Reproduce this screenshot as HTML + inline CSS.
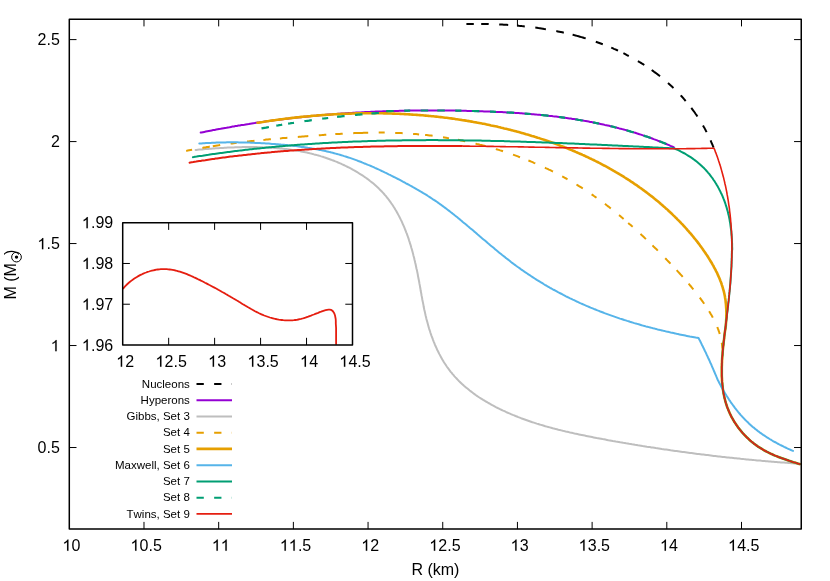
<!DOCTYPE html>
<html><head><meta charset="utf-8"><title>M-R</title>
<style>
html,body{margin:0;padding:0;background:#fff;}
body{width:830px;height:581px;overflow:hidden;}
svg{display:block;will-change:transform;}
text{font-family:"Liberation Sans",sans-serif;fill:#000;font-kerning:none;}
.t16{font-size:16px;}
.t12{font-size:11.5px;}
.c{fill:none;stroke-linejoin:round;stroke-linecap:butt;}
.r{stroke-linecap:round;}
</style></head><body>
<svg width="830" height="581" viewBox="0 0 830 581">
<rect width="830" height="581" fill="#fff"/>
<path d="M143.99,529.10 v-7.20 M143.99,19.20 v7.20 M218.68,529.10 v-7.20 M218.68,19.20 v7.20 M293.37,529.10 v-7.20 M293.37,19.20 v7.20 M368.06,529.10 v-7.20 M368.06,19.20 v7.20 M442.74,529.10 v-7.20 M442.74,19.20 v7.20 M517.43,529.10 v-7.20 M517.43,19.20 v7.20 M592.12,529.10 v-7.20 M592.12,19.20 v7.20 M666.81,529.10 v-7.20 M666.81,19.20 v7.20 M741.50,529.10 v-7.20 M741.50,19.20 v7.20 M69.30,447.52 h7.20 M801.25,447.52 h-7.20 M69.30,345.54 h7.20 M801.25,345.54 h-7.20 M69.30,243.56 h7.20 M801.25,243.56 h-7.20 M69.30,141.58 h7.20 M801.25,141.58 h-7.20 M69.30,39.60 h7.20 M801.25,39.60 h-7.20" stroke="#000" stroke-width="1" fill="none"/>
<path d="M763 0H583V1147Q518 1085 412.5 1023T223 930V1104Q374 1175 487 1276T647 1472H763Z" transform="translate(62.50,550.80) scale(0.007812,-0.007643)" fill="#000" stroke="#000" stroke-width="12"/><text class="t16" x="71.60" y="550.80">0</text>
<path d="M763 0H583V1147Q518 1085 412.5 1023T223 930V1104Q374 1175 487 1276T647 1472H763Z" transform="translate(130.52,550.80) scale(0.007812,-0.007643)" fill="#000" stroke="#000" stroke-width="12"/><text class="t16" x="139.62" y="550.80">0.5</text>
<path d="M763 0H583V1147Q518 1085 412.5 1023T223 930V1104Q374 1175 487 1276T647 1472H763Z" transform="translate(211.88,550.80) scale(0.007812,-0.007643)" fill="#000" stroke="#000" stroke-width="12"/><path d="M763 0H583V1147Q518 1085 412.5 1023T223 930V1104Q374 1175 487 1276T647 1472H763Z" transform="translate(220.78,550.80) scale(0.007812,-0.007643)" fill="#000" stroke="#000" stroke-width="12"/>
<path d="M763 0H583V1147Q518 1085 412.5 1023T223 930V1104Q374 1175 487 1276T647 1472H763Z" transform="translate(279.90,550.80) scale(0.007812,-0.007643)" fill="#000" stroke="#000" stroke-width="12"/><path d="M763 0H583V1147Q518 1085 412.5 1023T223 930V1104Q374 1175 487 1276T647 1472H763Z" transform="translate(288.79,550.80) scale(0.007812,-0.007643)" fill="#000" stroke="#000" stroke-width="12"/><text class="t16" x="297.89" y="550.80">.5</text>
<path d="M763 0H583V1147Q518 1085 412.5 1023T223 930V1104Q374 1175 487 1276T647 1472H763Z" transform="translate(361.26,550.80) scale(0.007812,-0.007643)" fill="#000" stroke="#000" stroke-width="12"/><text class="t16" x="370.36" y="550.80">2</text>
<path d="M763 0H583V1147Q518 1085 412.5 1023T223 930V1104Q374 1175 487 1276T647 1472H763Z" transform="translate(429.27,550.80) scale(0.007812,-0.007643)" fill="#000" stroke="#000" stroke-width="12"/><text class="t16" x="438.37" y="550.80">2.5</text>
<path d="M763 0H583V1147Q518 1085 412.5 1023T223 930V1104Q374 1175 487 1276T647 1472H763Z" transform="translate(510.63,550.80) scale(0.007812,-0.007643)" fill="#000" stroke="#000" stroke-width="12"/><text class="t16" x="519.73" y="550.80">3</text>
<path d="M763 0H583V1147Q518 1085 412.5 1023T223 930V1104Q374 1175 487 1276T647 1472H763Z" transform="translate(578.65,550.80) scale(0.007812,-0.007643)" fill="#000" stroke="#000" stroke-width="12"/><text class="t16" x="587.75" y="550.80">3.5</text>
<path d="M763 0H583V1147Q518 1085 412.5 1023T223 930V1104Q374 1175 487 1276T647 1472H763Z" transform="translate(660.01,550.80) scale(0.007812,-0.007643)" fill="#000" stroke="#000" stroke-width="12"/><text class="t16" x="669.11" y="550.80">4</text>
<path d="M763 0H583V1147Q518 1085 412.5 1023T223 930V1104Q374 1175 487 1276T647 1472H763Z" transform="translate(728.03,550.80) scale(0.007812,-0.007643)" fill="#000" stroke="#000" stroke-width="12"/><text class="t16" x="737.13" y="550.80">4.5</text>
<text class="t16" x="37.56" y="453.12">0.5</text>
<path d="M763 0H583V1147Q518 1085 412.5 1023T223 930V1104Q374 1175 487 1276T647 1472H763Z" transform="translate(50.70,351.14) scale(0.007812,-0.007643)" fill="#000" stroke="#000" stroke-width="12"/>
<path d="M763 0H583V1147Q518 1085 412.5 1023T223 930V1104Q374 1175 487 1276T647 1472H763Z" transform="translate(37.36,249.16) scale(0.007812,-0.007643)" fill="#000" stroke="#000" stroke-width="12"/><text class="t16" x="46.46" y="249.16">.5</text>
<text class="t16" x="50.90" y="147.18">2</text>
<text class="t16" x="37.56" y="45.20">2.5</text>
<path class="c" d="M466.4,24.0 L467.9,24.0 L469.3,24.0 L470.8,23.9 L472.3,23.9 L473.8,23.9 M481.2,23.9 L482.7,23.9 L484.2,24.0 L485.7,24.0 L487.2,24.0 L488.7,24.1 M499.2,24.4 L500.7,24.5 L502.2,24.6 L503.7,24.7 L505.2,24.7 L506.7,24.8 L508.2,24.9 M517.2,25.6 L518.8,25.8 L520.3,25.9 L521.8,26.1 L523.3,26.2 L524.8,26.4 M535.3,27.6 L536.8,27.8 L538.4,28.1 L539.9,28.3 L541.4,28.5 L542.9,28.7 L544.4,29.0 L545.9,29.2 M556.3,31.1 L557.8,31.4 L559.3,31.7 L560.8,32.0 L562.3,32.3 L563.8,32.7 M572.6,34.8 L574.1,35.1 L575.5,35.5 L577.0,35.9 L578.5,36.3 L579.9,36.7 L581.4,37.1 L582.8,37.5 L584.3,38.0 L585.7,38.4 M595.8,41.7 L597.2,42.2 L598.6,42.7 L600.0,43.2 L601.4,43.7 L602.8,44.2 M611.2,47.6 L612.6,48.2 L613.9,48.8 L615.3,49.4 L616.7,50.0 L618.0,50.6 M623.4,53.2 L624.8,53.9 L626.1,54.6 L627.4,55.3 L628.8,56.0 M637.9,61.1 L639.2,61.9 L640.5,62.6 L641.7,63.4 L643.0,64.2 L644.3,65.0 M651.7,70.0 L652.9,70.9 L654.1,71.8 L655.3,72.6 L656.5,73.5 L657.7,74.4 L658.8,75.3 L660.0,76.3 M668.0,82.9 L669.1,83.9 L670.2,84.9 L671.3,85.9 L672.4,87.0 L673.5,88.0 M680.7,95.4 L681.8,96.5 L682.8,97.6 L683.7,98.7 L684.7,99.8 L685.7,101.0 M691.3,107.9 L692.2,109.1 L693.1,110.3 L694.0,111.5 L694.9,112.8 L695.7,114.0 L696.6,115.2 L697.4,116.5 M703.0,125.5 L703.7,126.8 L704.5,128.1 L705.2,129.4 L705.9,130.8 L706.6,132.1 M710.6,140.4 L711.2,141.9 L711.8,143.3 L712.4,144.7 L713.0,146.2 L713.6,147.6" stroke="#000000" stroke-width="2.0"/>
<path class="c r" d="M200.7,132.6 L201.4,132.5 L202.9,132.2 L204.3,131.9 L205.8,131.6 L207.3,131.3 L208.8,131.0 L210.3,130.7 L211.7,130.4 L213.2,130.1 L214.7,129.9 L216.2,129.6 L217.7,129.3 L219.1,129.0 L220.6,128.8 L222.1,128.5 L223.6,128.2 L225.1,127.9 L226.5,127.7 L228.0,127.4 L229.5,127.2 L231.0,126.9 L232.5,126.6 L234.0,126.4 L235.4,126.1 L236.9,125.9 L238.4,125.6 L239.9,125.4 L241.4,125.1 L242.9,124.9 L244.4,124.7 L245.8,124.4 L247.3,124.2 L248.8,124.0 L250.3,123.7 L251.8,123.5 L253.3,123.3 L254.7,123.1 L256.2,122.8 L257.7,122.6 L259.2,122.4 L260.7,122.2 L262.2,122.0 L263.7,121.8 L265.2,121.5 L266.6,121.3 L268.1,121.1 L269.6,120.9 L271.1,120.7 L272.6,120.5 L274.1,120.3 L275.6,120.1 L277.1,119.9 L278.5,119.8 L280.0,119.6 L281.5,119.4 L283.0,119.2 L284.5,119.0 L286.0,118.8 L287.5,118.7 L289.0,118.5 L290.5,118.3 L292.0,118.1 L293.4,118.0 L294.9,117.8 L296.4,117.6 L297.9,117.5 L299.4,117.3 L300.9,117.2 L302.4,117.0 L303.9,116.8 L305.4,116.7 L306.9,116.5 L308.4,116.4 L309.9,116.2 L311.4,116.1 L312.8,115.9 L314.3,115.8 L315.8,115.7 L317.3,115.5 L318.8,115.4 L320.3,115.3 L321.8,115.1 L323.3,115.0 L324.8,114.9 L326.3,114.7 L327.8,114.6 L329.3,114.5 L330.8,114.4 L332.3,114.3 L333.8,114.1 L335.3,114.0 L336.8,113.9 L338.2,113.8 L339.7,113.7 L341.2,113.6 L342.7,113.5 L344.2,113.4 L345.7,113.3 L347.2,113.2 L348.7,113.1 L350.2,113.0 L351.7,112.9 L353.2,112.8 L354.7,112.7 L356.2,112.6 L357.7,112.5 L359.2,112.4 L360.7,112.4 L362.2,112.3 L363.7,112.2 L365.2,112.1 L366.7,112.0 L368.2,112.0 L369.7,111.9 L371.2,111.8 L372.7,111.8 L374.2,111.7 L375.7,111.6 L377.2,111.6 L378.7,111.5 L380.2,111.4 L381.7,111.4 L383.2,111.3 L384.7,111.3 L386.2,111.2 L387.7,111.2 L389.2,111.1 L390.7,111.1 L392.2,111.0 L393.7,111.0 L395.2,110.9 L396.7,110.9 L398.2,110.9 L399.7,110.8 L401.2,110.8 L402.7,110.8 L404.2,110.7 L405.7,110.7 L407.2,110.7 L408.7,110.6 L410.2,110.6 L411.7,110.6 L413.2,110.6 L414.7,110.6 L416.2,110.5 L417.7,110.5 L419.2,110.5 L420.7,110.5 L422.2,110.5 L423.7,110.5 L425.2,110.5 L426.7,110.5 L428.2,110.5 L429.7,110.4 L431.3,110.4 L432.8,110.4 L434.3,110.4 L435.8,110.4 L437.3,110.5 L438.8,110.5 L440.3,110.5 L441.8,110.5 L443.3,110.5 L444.8,110.5 L446.3,110.5 L447.8,110.5 L449.3,110.5 L450.8,110.6 L452.3,110.6 L453.8,110.6 L455.3,110.6 L456.8,110.7 L458.3,110.7 L459.8,110.7 L461.4,110.7 L462.9,110.8 L464.4,110.8 L465.9,110.8 L467.4,110.9 L468.9,110.9 L470.4,111.0 L471.9,111.0 L473.4,111.0 L474.9,111.1 L476.4,111.1 L477.9,111.2 L479.4,111.2 L480.9,111.3 L482.4,111.3 L484.0,111.4 L485.5,111.4 L487.0,111.5 L488.5,111.5 L490.0,111.6 L491.5,111.7 L493.0,111.7 L494.5,111.8 L496.0,111.9 L497.5,111.9 L499.0,112.0 L500.5,112.1 L502.0,112.1 L503.5,112.2 L505.1,112.3 L506.6,112.4 L508.1,112.5 L509.6,112.6 L511.1,112.6 L512.6,112.7 L514.1,112.8 L515.6,112.9 L517.1,113.0 L518.6,113.1 L520.1,113.2 L521.6,113.3 L523.1,113.4 L524.6,113.6 L526.1,113.7 L527.6,113.8 L529.1,113.9 L530.6,114.0 L532.1,114.2 L533.6,114.3 L535.1,114.4 L536.6,114.6 L538.1,114.7 L539.6,114.8 L541.1,115.0 L542.6,115.1 L544.1,115.3 L545.6,115.4 L547.1,115.6 L548.6,115.8 L550.1,115.9 L551.6,116.1 L553.1,116.3 L554.6,116.4 L556.1,116.6 L557.5,116.8 L559.0,117.0 L560.5,117.2 L562.0,117.4 L563.5,117.6 L565.0,117.8 L566.5,118.0 L568.0,118.2 L569.4,118.4 L570.9,118.6 L572.4,118.9 L573.9,119.1 L575.4,119.3 L576.9,119.5 L578.3,119.8 L579.8,120.0 L581.3,120.3 L582.8,120.5 L584.2,120.8 L585.7,121.0 L587.2,121.3 L588.7,121.6 L590.1,121.9 L591.6,122.1 L593.1,122.4 L594.5,122.7 L596.0,123.0 L597.5,123.3 L598.9,123.6 L600.4,123.9 L601.9,124.2 L603.3,124.5 L604.8,124.9 L606.3,125.2 L607.7,125.5 L609.2,125.8 L610.6,126.2 L612.1,126.5 L613.5,126.9 L615.0,127.3 L616.4,127.6 L617.9,128.0 L619.3,128.4 L620.8,128.7 L622.2,129.1 L623.7,129.5 L625.1,129.9 L626.5,130.3 L628.0,130.7 L629.4,131.1 L630.9,131.6 L632.3,132.0 L633.7,132.4 L635.2,132.8 L636.6,133.3 L638.0,133.7 L639.5,134.2 L640.9,134.6 L642.3,135.1 L643.7,135.6 L645.1,136.1 L646.6,136.5 L648.0,137.0 L649.4,137.5 L650.8,138.0 L652.2,138.5 L653.6,139.1 L655.1,139.6 L656.5,140.1 L657.9,140.7 L659.3,141.2 L660.7,141.7 L662.1,142.3 L663.5,142.9 L664.9,143.4 L666.3,144.0 L667.7,144.6 L669.1,145.2 L670.4,145.8 L671.8,146.4 L673.2,147.0 L673.9,147.3" stroke="#9400D3" stroke-width="2.0"/>
<path class="c r" d="M195.6,149.9 L196.3,149.9 L197.7,149.7 L199.2,149.6 L200.7,149.5 L202.2,149.4 L203.7,149.2 L205.2,149.1 L206.6,149.0 L208.1,148.9 L209.6,148.8 L211.1,148.7 L212.6,148.6 L214.1,148.5 L215.6,148.3 L217.1,148.2 L218.6,148.2 L220.1,148.1 L221.6,148.0 L223.1,147.9 L224.6,147.8 L226.1,147.7 L227.6,147.6 L229.1,147.6 L230.7,147.5 L232.2,147.4 L233.7,147.4 L235.2,147.3 L236.7,147.3 L238.2,147.2 L239.7,147.2 L241.2,147.2 L242.7,147.1 L244.3,147.1 L245.8,147.1 L247.3,147.1 L248.8,147.1 L250.3,147.1 L251.8,147.1 L253.3,147.1 L254.9,147.1 L256.4,147.1 L257.9,147.2 L259.4,147.2 L260.9,147.2 L262.4,147.3 L263.9,147.4 L265.4,147.4 L266.9,147.5 L268.4,147.6 L269.9,147.7 L271.4,147.7 L272.9,147.8 L274.4,148.0 L275.9,148.1 L277.4,148.2 L278.9,148.3 L280.4,148.5 L281.9,148.6 L283.4,148.8 L284.9,149.0 L286.4,149.1 L287.8,149.3 L289.3,149.5 L290.8,149.7 L292.3,149.9 L293.8,150.2 L295.2,150.4 L296.7,150.6 L298.2,150.9 L299.6,151.1 L301.1,151.4 L302.5,151.7 L304.0,152.0 L305.4,152.3 L306.9,152.6 L308.3,152.9 L309.8,153.3 L311.2,153.6 L312.7,154.0 L314.1,154.4 L315.5,154.7 L317.0,155.1 L318.4,155.5 L319.8,155.9 L321.2,156.4 L322.7,156.8 L324.1,157.3 L325.5,157.7 L326.9,158.2 L328.3,158.7 L329.7,159.2 L331.1,159.7 L332.5,160.3 L333.9,160.8 L335.4,161.4 L336.8,161.9 L338.1,162.5 L339.5,163.1 L340.9,163.7 L342.3,164.4 L343.7,165.0 L345.1,165.7 L346.5,166.3 L347.8,167.0 L349.2,167.7 L350.6,168.4 L351.9,169.1 L353.2,169.9 L354.6,170.6 L355.9,171.4 L357.2,172.2 L358.5,173.0 L359.8,173.8 L361.1,174.6 L362.4,175.4 L363.7,176.3 L364.9,177.2 L366.2,178.0 L367.4,178.9 L368.6,179.8 L369.8,180.8 L371.0,181.7 L372.2,182.6 L373.4,183.6 L374.5,184.6 L375.6,185.6 L376.7,186.6 L377.8,187.6 L378.9,188.6 L380.0,189.7 L381.0,190.7 L382.1,191.8 L383.1,192.9 L384.1,194.0 L385.0,195.1 L386.0,196.2 L386.9,197.4 L387.8,198.5 L388.7,199.7 L389.6,200.9 L390.5,202.1 L391.3,203.3 L392.2,204.5 L393.0,205.7 L393.8,207.0 L394.6,208.2 L395.3,209.5 L396.1,210.7 L396.8,212.0 L397.5,213.3 L398.2,214.6 L398.9,215.9 L399.6,217.2 L400.3,218.6 L400.9,219.9 L401.6,221.2 L402.2,222.6 L402.8,224.0 L403.4,225.3 L404.0,226.7 L404.6,228.1 L405.1,229.5 L405.7,230.9 L406.2,232.3 L406.8,233.7 L407.3,235.1 L407.8,236.5 L408.3,237.9 L408.8,239.4 L409.2,240.8 L409.7,242.2 L410.1,243.7 L410.6,245.1 L411.0,246.6 L411.4,248.0 L411.9,249.5 L412.3,251.0 L412.7,252.4 L413.1,253.9 L413.4,255.4 L413.8,256.8 L414.2,258.3 L414.5,259.8 L414.9,261.3 L415.2,262.7 L415.6,264.2 L415.9,265.7 L416.2,267.2 L416.5,268.7 L416.9,270.1 L417.2,271.6 L417.5,273.1 L417.8,274.6 L418.0,276.1 L418.3,277.5 L418.6,279.0 L418.9,280.5 L419.2,282.0 L419.4,283.4 L419.7,284.9 L420.0,286.4 L420.2,287.8 L420.5,289.3 L420.7,290.8 L421.0,292.2 L421.3,293.7 L421.5,295.2 L421.8,296.6 L422.1,298.1 L422.3,299.5 L422.6,301.0 L422.9,302.4 L423.2,303.9 L423.5,305.4 L423.7,306.8 L424.0,308.3 L424.3,309.7 L424.7,311.2 L425.0,312.6 L425.3,314.1 L425.6,315.5 L426.0,317.0 L426.3,318.4 L426.7,319.9 L427.1,321.3 L427.5,322.8 L427.9,324.2 L428.3,325.7 L428.7,327.2 L429.1,328.6 L429.6,330.1 L430.1,331.5 L430.5,333.0 L431.0,334.4 L431.5,335.8 L432.1,337.3 L432.6,338.7 L433.1,340.1 L433.7,341.6 L434.3,343.0 L434.8,344.4 L435.4,345.8 L436.1,347.2 L436.7,348.6 L437.3,350.0 L438.0,351.3 L438.7,352.7 L439.4,354.1 L440.1,355.4 L440.8,356.7 L441.5,358.1 L442.3,359.4 L443.1,360.7 L443.8,362.0 L444.6,363.2 L445.5,364.5 L446.3,365.8 L447.1,367.0 L448.0,368.2 L448.9,369.4 L449.8,370.6 L450.7,371.8 L451.7,372.9 L452.6,374.1 L453.6,375.2 L454.5,376.3 L455.5,377.4 L456.6,378.5 L457.6,379.6 L458.6,380.7 L459.7,381.7 L460.7,382.7 L461.8,383.8 L462.9,384.8 L464.0,385.8 L465.1,386.7 L466.3,387.7 L467.4,388.6 L468.6,389.6 L469.7,390.5 L470.9,391.4 L472.1,392.3 L473.3,393.2 L474.5,394.1 L475.7,395.0 L476.9,395.8 L478.2,396.7 L479.4,397.5 L480.7,398.3 L482.0,399.1 L483.2,399.9 L484.5,400.7 L485.8,401.5 L487.1,402.2 L488.4,403.0 L489.7,403.7 L491.0,404.5 L492.3,405.2 L493.7,405.9 L495.0,406.6 L496.3,407.3 L497.7,408.0 L499.0,408.6 L500.4,409.3 L501.8,410.0 L503.1,410.6 L504.5,411.2 L505.9,411.9 L507.2,412.5 L508.6,413.1 L510.0,413.7 L511.4,414.3 L512.8,414.9 L514.2,415.4 L515.5,416.0 L516.9,416.5 L518.3,417.1 L519.7,417.6 L521.1,418.2 L522.5,418.7 L524.0,419.2 L525.4,419.7 L526.8,420.2 L528.2,420.7 L529.6,421.2 L531.0,421.7 L532.4,422.2 L533.9,422.6 L535.3,423.1 L536.7,423.6 L538.2,424.0 L539.6,424.5 L541.0,424.9 L542.5,425.3 L543.9,425.7 L545.3,426.2 L546.8,426.6 L548.2,427.0 L549.7,427.4 L551.1,427.8 L552.6,428.2 L554.0,428.6 L555.5,428.9 L556.9,429.3 L558.4,429.7 L559.8,430.0 L561.3,430.4 L562.7,430.8 L564.2,431.1 L565.7,431.5 L567.1,431.8 L568.6,432.1 L570.1,432.5 L571.5,432.8 L573.0,433.1 L574.5,433.5 L575.9,433.8 L577.4,434.1 L578.9,434.4 L580.3,434.7 L581.8,435.0 L583.3,435.3 L584.8,435.6 L586.2,435.9 L587.7,436.2 L589.2,436.5 L590.7,436.8 L592.1,437.1 L593.6,437.4 L595.1,437.7 L596.6,438.0 L598.0,438.2 L599.5,438.5 L601.0,438.8 L602.5,439.1 L604.0,439.3 L605.4,439.6 L606.9,439.9 L608.4,440.2 L609.9,440.4 L611.4,440.7 L612.8,441.0 L614.3,441.2 L615.8,441.5 L617.3,441.7 L618.8,442.0 L620.2,442.3 L621.7,442.5 L623.2,442.8 L624.7,443.0 L626.2,443.3 L627.6,443.5 L629.1,443.8 L630.6,444.0 L632.1,444.3 L633.6,444.5 L635.0,444.8 L636.5,445.0 L638.0,445.3 L639.5,445.5 L641.0,445.7 L642.5,446.0 L643.9,446.2 L645.4,446.4 L646.9,446.7 L648.4,446.9 L649.9,447.1 L651.3,447.4 L652.8,447.6 L654.3,447.8 L655.8,448.1 L657.3,448.3 L658.8,448.5 L660.3,448.7 L661.7,449.0 L663.2,449.2 L664.7,449.4 L666.2,449.6 L667.7,449.8 L669.2,450.0 L670.6,450.3 L672.1,450.5 L673.6,450.7 L675.1,450.9 L676.6,451.1 L678.1,451.3 L679.6,451.5 L681.0,451.7 L682.5,451.9 L684.0,452.1 L685.5,452.3 L687.0,452.5 L688.5,452.7 L690.0,452.9 L691.5,453.1 L692.9,453.3 L694.4,453.5 L695.9,453.7 L697.4,453.9 L698.9,454.0 L700.4,454.2 L701.9,454.4 L703.4,454.6 L704.8,454.8 L706.3,455.0 L707.8,455.1 L709.3,455.3 L710.8,455.5 L712.3,455.7 L713.8,455.9 L715.3,456.0 L716.8,456.2 L718.3,456.4 L719.7,456.5 L721.2,456.7 L722.7,456.9 L724.2,457.0 L725.7,457.2 L727.2,457.4 L728.7,457.5 L730.2,457.7 L731.7,457.8 L733.2,458.0 L734.7,458.2 L736.1,458.3 L737.6,458.5 L739.1,458.6 L740.6,458.8 L742.1,458.9 L743.6,459.1 L745.1,459.2 L746.6,459.4 L748.1,459.5 L749.6,459.7 L751.1,459.8 L752.6,459.9 L754.1,460.1 L755.6,460.2 L757.1,460.4 L758.6,460.5 L760.1,460.6 L761.5,460.8 L763.0,460.9 L764.5,461.0 L766.0,461.2 L767.5,461.3 L769.0,461.4 L770.5,461.5 L772.0,461.7 L773.5,461.8 L775.0,461.9 L776.5,462.0 L778.0,462.2 L779.5,462.3 L781.0,462.4 L782.5,462.5 L784.0,462.6 L785.5,462.7 L787.0,462.8 L788.5,463.0 L790.0,463.1 L791.5,463.2 L793.0,463.3 L794.5,463.4 L796.0,463.5 L797.5,463.6 L799.0,463.7 L799.7,463.7" stroke="#BEBEBE" stroke-width="2.0"/>
<path class="c" d="M186.2,150.9 L187.7,150.6 L189.1,150.3 L190.6,150.0 L192.1,149.7 M202.4,147.9 L203.9,147.6 L205.4,147.4 L206.9,147.1 L208.4,146.9 L209.8,146.6 M212.8,146.2 L214.3,145.9 L215.8,145.7 L217.3,145.5 L218.7,145.3 L220.2,145.0 M230.6,143.6 L232.1,143.4 L233.6,143.2 L235.1,143.0 L236.6,142.9 M247.0,141.6 L248.5,141.5 L250.0,141.3 L251.5,141.1 L253.0,141.0 L254.5,140.8 M263.4,139.9 L264.9,139.8 L266.4,139.6 L267.9,139.5 L269.4,139.3 L270.9,139.2 M279.9,138.4 L281.4,138.3 L282.9,138.1 L284.4,138.0 L285.9,137.9 L287.4,137.8 M297.8,136.9 L299.3,136.8 L300.8,136.7 L302.3,136.5 L303.8,136.4 L305.3,136.3 L306.8,136.2 L308.3,136.1 M318.8,135.3 L320.3,135.2 L321.8,135.1 L323.3,134.9 L324.8,134.8 L326.3,134.7 M335.3,134.1 L336.8,134.0 L338.3,134.0 L339.7,133.9 L341.2,133.8 L342.7,133.7 M353.2,133.2 L354.7,133.1 L356.2,133.1 L357.7,133.0 L359.2,133.0 L360.7,132.9 L362.2,132.9 L363.7,132.8 L365.2,132.8 L366.7,132.7 L368.2,132.7 M378.7,132.6 L380.2,132.6 L381.7,132.6 L383.2,132.6 L384.7,132.6 M395.2,132.9 L396.7,132.9 L398.2,133.0 L399.7,133.0 L401.2,133.1 L402.7,133.2 M413.1,133.9 L414.6,134.0 L416.1,134.1 L417.6,134.2 L419.1,134.4 M425.1,135.0 L426.6,135.1 L428.1,135.3 L429.6,135.5 L431.1,135.6 L432.6,135.8 M443.0,137.3 L444.5,137.5 L446.0,137.7 L447.5,138.0 L449.0,138.2 M457.9,139.8 L459.3,140.1 L460.8,140.4 L462.3,140.7 L463.8,141.0 L465.2,141.3 M475.5,143.6 L477.0,144.0 L478.4,144.3 L479.9,144.7 L481.4,145.0 L482.8,145.4 L484.3,145.8 L485.7,146.2 M495.8,149.1 L497.3,149.5 L498.7,149.9 L500.2,150.4 L501.6,150.8 L503.0,151.3 M513.0,154.6 L514.4,155.1 L515.8,155.6 L517.2,156.1 L518.6,156.7 L520.0,157.2 M528.4,160.5 L529.8,161.0 L531.2,161.6 L532.6,162.2 L533.9,162.8 L535.3,163.4 M544.9,167.6 L546.2,168.3 L547.6,168.9 L548.9,169.6 L550.3,170.2 L551.6,170.9 L553.0,171.5 M562.2,176.4 L563.6,177.1 L564.9,177.8 L566.2,178.5 L567.5,179.3 M576.5,184.5 L577.8,185.3 L579.0,186.1 L580.3,186.9 L581.6,187.7 L582.8,188.5 M591.6,194.3 L592.8,195.1 L594.0,196.0 L595.2,196.8 L596.5,197.7 M604.9,203.9 L606.1,204.8 L607.3,205.7 L608.5,206.6 L609.6,207.5 L610.8,208.5 M619.0,215.1 L620.2,216.0 L621.3,217.0 L622.5,218.0 L623.6,218.9 M628.2,222.9 L629.3,223.9 L630.4,224.8 L631.5,225.8 L632.7,226.8 M640.5,233.9 L641.6,235.0 L642.7,236.0 L643.8,237.0 L644.9,238.1 L645.9,239.1 M652.5,245.4 L653.5,246.5 L654.6,247.5 L655.7,248.6 L656.8,249.6 L657.8,250.7 M665.2,258.2 L666.3,259.3 L667.3,260.4 L668.4,261.5 L669.4,262.5 L670.5,263.6 M676.7,270.2 L677.7,271.3 L678.7,272.4 L679.7,273.5 L680.7,274.6 L681.7,275.7 L682.7,276.9 M688.6,283.7 L689.6,284.8 L690.6,286.0 L691.5,287.1 L692.5,288.3 L693.4,289.4 M699.8,297.7 L700.7,298.9 L701.6,300.1 L702.5,301.3 L703.3,302.5 L704.2,303.8 M709.1,311.2 L709.9,312.5 L710.6,313.8 L711.4,315.1 L712.1,316.3 L712.8,317.6 M717.3,327.0 L717.8,328.4 L718.3,329.7 L718.8,331.1 L719.3,332.5 L719.7,333.9 M721.7,342.7 L722.0,344.1 L722.1,345.7 L722.3,347.2 L722.4,348.7" stroke="#E69F00" stroke-width="2.0"/>
<path class="c r" d="M257.5,122.8 L258.2,122.7 L259.7,122.4 L261.2,122.2 L262.6,122.0 L264.1,121.7 L265.6,121.5 L267.1,121.3 L268.6,121.1 L270.1,120.8 L271.6,120.6 L273.1,120.4 L274.6,120.2 L276.0,120.0 L277.5,119.8 L279.0,119.6 L280.5,119.4 L282.0,119.2 L283.5,119.0 L285.0,118.8 L286.5,118.6 L288.0,118.5 L289.5,118.3 L291.0,118.1 L292.5,117.9 L294.0,117.8 L295.4,117.6 L296.9,117.4 L298.4,117.3 L299.9,117.1 L301.4,116.9 L302.9,116.8 L304.4,116.6 L305.9,116.5 L307.4,116.4 L308.9,116.2 L310.4,116.1 L311.9,115.9 L313.4,115.8 L314.9,115.7 L316.4,115.6 L317.9,115.4 L319.4,115.3 L320.9,115.2 L322.4,115.1 L323.9,115.0 L325.4,114.9 L326.9,114.8 L328.4,114.7 L329.9,114.6 L331.4,114.5 L332.9,114.4 L334.4,114.3 L335.9,114.2 L337.4,114.1 L338.9,114.1 L340.4,114.0 L341.9,113.9 L343.4,113.9 L344.9,113.8 L346.4,113.7 L347.9,113.7 L349.4,113.6 L350.9,113.6 L352.4,113.5 L353.9,113.5 L355.4,113.4 L356.9,113.4 L358.4,113.4 L359.9,113.3 L361.4,113.3 L362.9,113.3 L364.4,113.3 L365.9,113.3 L367.4,113.3 L368.9,113.2 L370.4,113.2 L371.9,113.2 L373.4,113.2 L374.9,113.2 L376.4,113.3 L377.9,113.3 L379.4,113.3 L380.9,113.3 L382.4,113.3 L383.9,113.4 L385.4,113.4 L386.8,113.4 L388.3,113.5 L389.8,113.5 L391.3,113.5 L392.8,113.6 L394.3,113.6 L395.8,113.7 L397.3,113.8 L398.8,113.8 L400.3,113.9 L401.8,114.0 L403.3,114.0 L404.8,114.1 L406.3,114.2 L407.8,114.3 L409.3,114.4 L410.8,114.5 L412.3,114.6 L413.8,114.7 L415.3,114.8 L416.8,114.9 L418.3,115.0 L419.8,115.1 L421.3,115.2 L422.7,115.3 L424.2,115.5 L425.7,115.6 L427.2,115.7 L428.7,115.9 L430.2,116.0 L431.7,116.2 L433.2,116.3 L434.7,116.5 L436.2,116.6 L437.7,116.8 L439.2,117.0 L440.6,117.1 L442.1,117.3 L443.6,117.5 L445.1,117.7 L446.6,117.8 L448.1,118.0 L449.6,118.2 L451.1,118.4 L452.5,118.6 L454.0,118.8 L455.5,119.1 L457.0,119.3 L458.5,119.5 L460.0,119.7 L461.4,119.9 L462.9,120.2 L464.4,120.4 L465.9,120.6 L467.4,120.9 L468.9,121.1 L470.3,121.4 L471.8,121.6 L473.3,121.9 L474.8,122.2 L476.3,122.4 L477.7,122.7 L479.2,123.0 L480.7,123.3 L482.2,123.6 L483.6,123.8 L485.1,124.1 L486.6,124.4 L488.1,124.7 L489.5,125.0 L491.0,125.4 L492.5,125.7 L493.9,126.0 L495.4,126.3 L496.9,126.6 L498.4,127.0 L499.8,127.3 L501.3,127.7 L502.8,128.0 L504.2,128.4 L505.7,128.7 L507.2,129.1 L508.6,129.4 L510.1,129.8 L511.5,130.2 L513.0,130.6 L514.5,130.9 L515.9,131.3 L517.4,131.7 L518.8,132.1 L520.3,132.5 L521.7,132.9 L523.2,133.3 L524.6,133.7 L526.1,134.2 L527.5,134.6 L529.0,135.0 L530.4,135.4 L531.9,135.9 L533.3,136.3 L534.8,136.8 L536.2,137.2 L537.6,137.7 L539.1,138.1 L540.5,138.6 L541.9,139.1 L543.4,139.6 L544.8,140.0 L546.2,140.5 L547.7,141.0 L549.1,141.5 L550.5,142.0 L551.9,142.5 L553.3,143.0 L554.8,143.5 L556.2,144.1 L557.6,144.6 L559.0,145.1 L560.4,145.7 L561.8,146.2 L563.2,146.7 L564.6,147.3 L566.0,147.8 L567.4,148.4 L568.8,149.0 L570.2,149.5 L571.6,150.1 L573.0,150.7 L574.4,151.3 L575.7,151.9 L577.1,152.5 L578.5,153.1 L579.9,153.7 L581.3,154.3 L582.6,154.9 L584.0,155.5 L585.4,156.2 L586.7,156.8 L588.1,157.4 L589.4,158.1 L590.8,158.7 L592.1,159.4 L593.5,160.0 L594.8,160.7 L596.2,161.4 L597.5,162.0 L598.8,162.7 L600.2,163.4 L601.5,164.1 L602.8,164.8 L604.1,165.5 L605.5,166.2 L606.8,166.9 L608.1,167.6 L609.4,168.4 L610.7,169.1 L612.0,169.8 L613.3,170.6 L614.6,171.3 L615.9,172.1 L617.2,172.8 L618.5,173.6 L619.8,174.4 L621.0,175.1 L622.3,175.9 L623.6,176.7 L624.8,177.5 L626.1,178.3 L627.4,179.1 L628.6,179.9 L629.9,180.7 L631.1,181.6 L632.4,182.4 L633.6,183.2 L634.8,184.1 L636.1,184.9 L637.3,185.7 L638.5,186.6 L639.7,187.5 L641.0,188.3 L642.2,189.2 L643.4,190.1 L644.6,191.0 L645.8,191.9 L647.0,192.8 L648.2,193.7 L649.3,194.6 L650.5,195.5 L651.7,196.4 L652.9,197.3 L654.0,198.3 L655.2,199.2 L656.4,200.2 L657.5,201.1 L658.7,202.1 L659.8,203.0 L660.9,204.0 L662.1,205.0 L663.2,206.0 L664.3,206.9 L665.4,207.9 L666.6,208.9 L667.7,209.9 L668.8,211.0 L669.9,212.0 L671.0,213.0 L672.1,214.0 L673.1,215.1 L674.2,216.1 L675.3,217.2 L676.4,218.2 L677.4,219.3 L678.5,220.4 L679.5,221.4 L680.6,222.5 L681.6,223.6 L682.7,224.7 L683.7,225.8 L684.7,226.9 L685.7,228.0 L686.7,229.1 L687.7,230.3 L688.7,231.4 L689.7,232.6 L690.7,233.7 L691.7,234.9 L692.6,236.0 L693.6,237.2 L694.5,238.4 L695.5,239.5 L696.4,240.7 L697.4,241.9 L698.3,243.1 L699.2,244.3 L700.1,245.6 L701.0,246.8 L701.9,248.0 L702.8,249.2 L703.6,250.5 L704.5,251.7 L705.4,253.0 L706.2,254.3 L707.1,255.5 L707.9,256.8 L708.7,258.1 L709.5,259.4 L710.3,260.7 L711.1,262.0 L711.9,263.3 L712.6,264.6 L713.4,265.9 L714.1,267.3 L714.8,268.6 L715.5,269.9 L716.2,271.3 L716.9,272.6 L717.5,274.0 L718.1,275.4 L718.7,276.7 L719.3,278.1 L719.9,279.5 L720.4,280.9 L721.0,282.3 L721.5,283.7 L721.9,285.1 L722.4,286.5 L722.8,287.9 L723.2,289.3 L723.6,290.7 L724.0,292.2 L724.3,293.6 L724.6,295.0 L724.9,296.5 L725.1,297.9 L725.4,299.4 L725.6,300.8 L725.7,302.3 L725.9,303.7 L726.0,305.2 L726.1,306.6 L726.2,308.1 L726.3,309.6 L726.3,311.0 L726.4,312.5 L726.4,314.0 L726.3,315.4 L726.3,316.9 L726.3,318.4 L726.2,319.9 L726.1,321.4 L726.0,322.8 L725.9,324.3 L725.8,325.8 L725.6,327.3 L725.5,328.8 L725.1,330.4 L724.9,331.9 L724.7,333.4 L724.5,334.9 L724.3,336.5 L724.2,338.0 L724.0,339.5 L723.8,341.0 L723.6,342.6 L723.5,344.1 L723.3,345.6 L723.1,347.1 L723.0,348.7 L722.8,350.2 L722.7,351.7 L722.6,353.2 L722.5,354.8 L722.3,356.3 L722.2,357.8 L722.1,359.3 L722.0,360.9 L722.0,362.4 L721.9,363.9 L721.9,365.4 L721.8,366.9 L721.8,368.4 L721.8,369.9 L721.8,371.4 L721.8,372.9 L721.8,374.4 L721.8,375.9 L721.9,377.4 L722.0,378.9 L722.0,380.4 L722.1,381.9 L722.3,383.4 L722.4,384.8 L722.6,386.3 L722.7,387.8 L722.9,389.2 L723.1,390.7 L723.4,392.1 L723.6,393.6 L723.9,395.0 L724.2,396.4 L724.5,397.9 L724.9,399.3 L725.2,400.7 L725.6,402.1 L726.0,403.5 L726.5,404.9 L726.9,406.3 L727.4,407.7 L728.0,409.0 L728.5,410.4 L729.1,411.7 L729.7,413.1 L730.3,414.4 L731.0,415.8 L731.6,417.1 L732.4,418.4 L733.1,419.7 L733.9,421.0 L734.6,422.3 L735.5,423.5 L736.3,424.8 L737.2,426.0 L738.0,427.3 L739.0,428.5 L739.9,429.7 L740.9,430.9 L741.8,432.0 L742.8,433.2 L743.9,434.3 L744.9,435.4 L746.0,436.5 L747.0,437.6 L748.2,438.6 L749.3,439.7 L750.4,440.7 L751.6,441.7 L752.8,442.6 L753.9,443.6 L755.2,444.5 L756.4,445.4 L757.6,446.3 L758.9,447.1 L760.2,447.9 L761.5,448.7 L762.8,449.5 L764.1,450.3 L765.4,451.0 L766.7,451.7 L768.1,452.4 L769.5,453.1 L770.8,453.7 L772.2,454.3 L773.6,455.0 L775.0,455.6 L776.4,456.1 L777.8,456.7 L779.2,457.3 L780.6,457.8 L782.0,458.3 L783.5,458.8 L784.9,459.3 L786.3,459.8 L787.7,460.3 L789.2,460.8 L790.6,461.2 L792.0,461.7 L793.4,462.2 L794.9,462.6 L796.3,463.0 L797.7,463.5 L799.1,463.9 L799.7,464.1" stroke="#E69F00" stroke-width="2.6"/>
<path class="c r" d="M199.3,143.6 L200.0,143.6 L201.5,143.5 L203.0,143.3 L204.5,143.2 L206.0,143.1 L207.5,143.0 L209.0,143.0 L210.5,142.9 L212.0,142.8 L213.5,142.7 L215.0,142.7 L216.5,142.6 L218.0,142.5 L219.5,142.5 L221.0,142.5 L222.5,142.4 L224.0,142.4 L225.5,142.4 L227.0,142.3 L228.5,142.3 L230.0,142.3 L231.5,142.3 L233.0,142.3 L234.5,142.3 L236.0,142.3 L237.5,142.3 L239.0,142.4 L240.5,142.4 L242.0,142.4 L243.5,142.4 L245.0,142.5 L246.5,142.5 L248.0,142.6 L249.5,142.6 L251.0,142.7 L252.4,142.7 L253.9,142.8 L255.4,142.9 L256.9,142.9 L258.4,143.0 L259.9,143.1 L261.4,143.2 L262.9,143.3 L264.4,143.3 L265.9,143.4 L267.4,143.5 L268.9,143.6 L270.4,143.7 L271.9,143.9 L273.4,144.0 L274.9,144.1 L276.4,144.2 L277.9,144.3 L279.4,144.4 L280.9,144.6 L282.4,144.7 L283.9,144.8 L285.4,145.0 L286.9,145.1 L288.4,145.3 L289.9,145.4 L291.4,145.6 L292.9,145.8 L294.4,145.9 L295.9,146.1 L297.4,146.3 L298.8,146.5 L300.3,146.7 L301.8,146.9 L303.3,147.1 L304.8,147.3 L306.3,147.5 L307.8,147.8 L309.2,148.0 L310.7,148.2 L312.2,148.5 L313.7,148.7 L315.1,149.0 L316.6,149.3 L318.1,149.6 L319.6,149.9 L321.0,150.1 L322.5,150.4 L324.0,150.8 L325.4,151.1 L326.9,151.4 L328.3,151.7 L329.8,152.1 L331.2,152.4 L332.7,152.8 L334.1,153.2 L335.6,153.6 L337.0,154.0 L338.5,154.4 L339.9,154.8 L341.3,155.2 L342.8,155.6 L344.2,156.1 L345.6,156.5 L347.0,157.0 L348.5,157.5 L349.9,157.9 L351.3,158.4 L352.7,158.9 L354.1,159.4 L355.5,159.9 L356.9,160.4 L358.3,161.0 L359.8,161.5 L361.2,162.0 L362.5,162.6 L363.9,163.2 L365.3,163.7 L366.7,164.3 L368.1,164.9 L369.5,165.4 L370.9,166.0 L372.3,166.6 L373.6,167.2 L375.0,167.9 L376.4,168.5 L377.8,169.1 L379.1,169.7 L380.5,170.3 L381.8,171.0 L383.2,171.6 L384.6,172.3 L385.9,172.9 L387.3,173.6 L388.6,174.3 L390.0,174.9 L391.3,175.6 L392.7,176.3 L394.0,177.0 L395.4,177.6 L396.7,178.3 L398.0,179.0 L399.4,179.7 L400.7,180.4 L402.0,181.1 L403.3,181.8 L404.7,182.5 L406.0,183.3 L407.3,184.0 L408.6,184.7 L409.9,185.4 L411.3,186.1 L412.6,186.9 L413.9,187.6 L415.2,188.3 L416.5,189.1 L417.8,189.8 L419.1,190.6 L420.4,191.4 L421.7,192.1 L422.9,192.9 L424.2,193.7 L425.5,194.4 L426.8,195.2 L428.0,196.0 L429.3,196.8 L430.5,197.6 L431.8,198.5 L433.0,199.3 L434.3,200.1 L435.5,200.9 L436.8,201.8 L438.0,202.6 L439.2,203.5 L440.4,204.4 L441.6,205.2 L442.8,206.1 L444.0,207.0 L445.2,207.9 L446.4,208.8 L447.6,209.7 L448.8,210.6 L450.0,211.5 L451.2,212.5 L452.4,213.4 L453.5,214.3 L454.7,215.3 L455.9,216.2 L457.0,217.1 L458.2,218.1 L459.4,219.0 L460.5,220.0 L461.7,220.9 L462.8,221.9 L464.0,222.9 L465.1,223.8 L466.3,224.8 L467.4,225.8 L468.6,226.7 L469.7,227.7 L470.9,228.7 L472.0,229.6 L473.2,230.6 L474.3,231.6 L475.5,232.5 L476.6,233.5 L477.7,234.5 L478.9,235.5 L480.0,236.4 L481.2,237.4 L482.3,238.4 L483.5,239.4 L484.6,240.3 L485.8,241.3 L486.9,242.3 L488.0,243.3 L489.2,244.2 L490.3,245.2 L491.5,246.2 L492.6,247.1 L493.8,248.1 L494.9,249.1 L496.1,250.0 L497.3,251.0 L498.4,251.9 L499.6,252.9 L500.7,253.8 L501.9,254.8 L503.1,255.7 L504.3,256.6 L505.4,257.6 L506.6,258.5 L507.8,259.4 L509.0,260.3 L510.2,261.3 L511.3,262.2 L512.5,263.1 L513.7,264.0 L514.9,264.9 L516.1,265.8 L517.4,266.7 L518.6,267.5 L519.8,268.4 L521.0,269.3 L522.2,270.1 L523.5,271.0 L524.7,271.9 L525.9,272.7 L527.2,273.5 L528.4,274.4 L529.7,275.2 L530.9,276.0 L532.2,276.9 L533.4,277.7 L534.7,278.5 L536.0,279.3 L537.2,280.1 L538.5,280.9 L539.8,281.7 L541.1,282.5 L542.4,283.2 L543.6,284.0 L544.9,284.8 L546.2,285.5 L547.5,286.3 L548.8,287.0 L550.1,287.8 L551.4,288.5 L552.8,289.3 L554.1,290.0 L555.4,290.7 L556.7,291.4 L558.0,292.1 L559.4,292.8 L560.7,293.5 L562.0,294.2 L563.3,294.9 L564.7,295.6 L566.0,296.3 L567.4,297.0 L568.7,297.6 L570.1,298.3 L571.4,298.9 L572.8,299.6 L574.1,300.2 L575.5,300.9 L576.8,301.5 L578.2,302.1 L579.6,302.8 L580.9,303.4 L582.3,304.0 L583.7,304.6 L585.0,305.2 L586.4,305.8 L587.8,306.4 L589.2,307.0 L590.6,307.6 L591.9,308.1 L593.3,308.7 L594.7,309.3 L596.1,309.8 L597.5,310.4 L598.9,310.9 L600.3,311.5 L601.7,312.0 L603.1,312.5 L604.5,313.1 L605.9,313.6 L607.3,314.1 L608.7,314.6 L610.1,315.1 L611.5,315.6 L613.0,316.1 L614.4,316.6 L615.8,317.1 L617.2,317.6 L618.6,318.1 L620.0,318.6 L621.5,319.0 L622.9,319.5 L624.3,320.0 L625.7,320.4 L627.2,320.9 L628.6,321.3 L630.0,321.8 L631.5,322.2 L632.9,322.6 L634.3,323.1 L635.8,323.5 L637.2,323.9 L638.7,324.3 L640.1,324.7 L641.6,325.2 L643.0,325.6 L644.4,326.0 L645.9,326.4 L647.3,326.7 L648.8,327.1 L650.2,327.5 L651.7,327.9 L653.1,328.3 L654.6,328.6 L656.1,329.0 L657.5,329.4 L659.0,329.7 L660.4,330.1 L661.9,330.4 L663.3,330.8 L664.8,331.1 L666.3,331.5 L667.7,331.8 L669.2,332.1 L670.7,332.5 L672.1,332.8 L673.6,333.1 L675.1,333.4 L676.5,333.8 L678.0,334.1 L679.5,334.4 L680.9,334.7 L682.4,335.0 L683.9,335.3 L685.3,335.6 L686.8,335.9 L688.3,336.2 L689.8,336.5 L691.2,336.7 L692.7,337.0 L694.2,337.3 L695.7,337.6 L697.1,337.8 L698.6,338.1 L699.3,339.5 L700.0,340.8 L700.7,342.2 L701.4,343.6 L702.0,345.0 L702.7,346.3 L703.4,347.7 L704.1,349.1 L704.7,350.5 L705.4,351.9 L706.1,353.3 L706.7,354.7 L707.4,356.1 L708.0,357.5 L708.6,358.8 L709.3,360.2 L709.9,361.6 L710.5,363.0 L711.2,364.4 L711.8,365.9 L712.4,367.3 L713.0,368.7 L713.6,370.1 L714.2,371.5 L714.8,372.9 L715.4,374.3 L716.0,375.7 L716.6,377.2 L717.2,378.6 L717.8,380.0 L718.5,381.3 L719.2,382.7 L719.9,384.0 L720.6,385.3 L721.3,386.7 L722.0,388.0 L722.7,389.3 L723.5,390.6 L724.3,391.9 L725.0,393.2 L725.8,394.5 L726.6,395.8 L727.4,397.0 L728.2,398.3 L729.0,399.6 L729.9,400.8 L730.7,402.1 L731.6,403.3 L732.5,404.5 L733.3,405.7 L734.2,406.9 L735.1,408.1 L736.1,409.3 L737.0,410.5 L737.9,411.7 L738.9,412.8 L739.9,414.0 L740.8,415.1 L741.8,416.2 L742.8,417.3 L743.9,418.4 L744.9,419.5 L746.0,420.6 L747.0,421.6 L748.1,422.6 L749.2,423.7 L750.3,424.7 L751.4,425.7 L752.5,426.7 L753.7,427.6 L754.8,428.6 L756.0,429.5 L757.2,430.4 L758.4,431.4 L759.6,432.3 L760.8,433.1 L762.0,434.0 L763.2,434.9 L764.5,435.7 L765.7,436.5 L767.0,437.4 L768.3,438.2 L769.6,439.0 L770.8,439.7 L772.1,440.5 L773.4,441.3 L774.8,442.0 L776.1,442.7 L777.4,443.5 L778.7,444.2 L780.1,444.9 L781.4,445.5 L782.8,446.2 L784.1,446.9 L785.5,447.5 L786.8,448.2 L788.2,448.8 L789.6,449.4 L790.9,450.0 L792.3,450.6 L793.0,450.9" stroke="#56B4E9" stroke-width="2.0"/>
<path class="c r" d="M192.9,157.2 L193.6,157.1 L195.1,156.8 L196.6,156.6 L198.0,156.3 L199.5,156.1 L201.0,155.9 L202.5,155.7 L204.0,155.4 L205.5,155.2 L207.0,155.0 L208.5,154.8 L209.9,154.5 L211.4,154.3 L212.9,154.1 L214.4,153.9 L215.9,153.7 L217.4,153.5 L218.9,153.3 L220.4,153.1 L221.8,152.9 L223.3,152.7 L224.8,152.5 L226.3,152.3 L227.8,152.1 L229.3,151.9 L230.8,151.7 L232.3,151.5 L233.8,151.3 L235.2,151.1 L236.7,150.9 L238.2,150.7 L239.7,150.6 L241.2,150.4 L242.7,150.2 L244.2,150.0 L245.7,149.8 L247.2,149.7 L248.7,149.5 L250.1,149.3 L251.6,149.2 L253.1,149.0 L254.6,148.8 L256.1,148.7 L257.6,148.5 L259.1,148.4 L260.6,148.2 L262.1,148.1 L263.6,147.9 L265.1,147.7 L266.6,147.6 L268.0,147.5 L269.5,147.3 L271.0,147.2 L272.5,147.0 L274.0,146.9 L275.5,146.7 L277.0,146.6 L278.5,146.5 L280.0,146.3 L281.5,146.2 L283.0,146.1 L284.5,145.9 L286.0,145.8 L287.5,145.7 L289.0,145.6 L290.4,145.4 L291.9,145.3 L293.4,145.2 L294.9,145.1 L296.4,145.0 L297.9,144.8 L299.4,144.7 L300.9,144.6 L302.4,144.5 L303.9,144.4 L305.4,144.3 L306.9,144.2 L308.4,144.1 L309.9,144.0 L311.4,143.9 L312.9,143.8 L314.4,143.7 L315.9,143.6 L317.4,143.5 L318.9,143.4 L320.4,143.3 L321.8,143.2 L323.3,143.1 L324.8,143.0 L326.3,143.0 L327.8,142.9 L329.3,142.8 L330.8,142.7 L332.3,142.6 L333.8,142.5 L335.3,142.5 L336.8,142.4 L338.3,142.3 L339.8,142.2 L341.3,142.2 L342.8,142.1 L344.3,142.0 L345.8,142.0 L347.3,141.9 L348.8,141.8 L350.3,141.8 L351.8,141.7 L353.3,141.6 L354.8,141.6 L356.3,141.5 L357.8,141.5 L359.3,141.4 L360.8,141.4 L362.3,141.3 L363.8,141.3 L365.3,141.2 L366.8,141.2 L368.3,141.1 L369.8,141.1 L371.3,141.0 L372.8,141.0 L374.3,140.9 L375.8,140.9 L377.3,140.8 L378.8,140.8 L380.3,140.8 L381.8,140.7 L383.3,140.7 L384.8,140.7 L386.3,140.6 L387.8,140.6 L389.3,140.6 L390.8,140.5 L392.3,140.5 L393.8,140.5 L395.3,140.4 L396.8,140.4 L398.3,140.4 L399.7,140.4 L401.2,140.4 L402.7,140.3 L404.2,140.3 L405.7,140.3 L407.2,140.3 L408.7,140.3 L410.2,140.2 L411.7,140.2 L413.2,140.2 L414.7,140.2 L416.2,140.2 L417.7,140.2 L419.2,140.2 L420.8,140.2 L422.3,140.2 L423.8,140.2 L425.3,140.2 L426.8,140.1 L428.3,140.1 L429.8,140.1 L431.3,140.1 L432.8,140.1 L434.3,140.1 L435.8,140.1 L437.3,140.1 L438.8,140.2 L440.3,140.2 L441.8,140.2 L443.3,140.2 L444.8,140.2 L446.3,140.2 L447.8,140.2 L449.3,140.2 L450.8,140.2 L452.3,140.2 L453.8,140.2 L455.3,140.3 L456.8,140.3 L458.3,140.3 L459.8,140.3 L461.3,140.3 L462.8,140.3 L464.3,140.4 L465.8,140.4 L467.3,140.4 L468.8,140.4 L470.3,140.5 L471.8,140.5 L473.3,140.5 L474.8,140.5 L476.3,140.5 L477.8,140.6 L479.3,140.6 L480.8,140.6 L482.3,140.7 L483.8,140.7 L485.3,140.7 L486.8,140.8 L488.3,140.8 L489.8,140.8 L491.3,140.9 L492.8,140.9 L494.3,140.9 L495.8,141.0 L497.3,141.0 L498.8,141.0 L500.3,141.1 L501.8,141.1 L503.3,141.1 L504.8,141.2 L506.3,141.2 L507.8,141.3 L509.3,141.3 L510.8,141.4 L512.3,141.4 L513.8,141.4 L515.3,141.5 L516.8,141.5 L518.3,141.6 L519.8,141.6 L521.3,141.7 L522.8,141.7 L524.3,141.8 L525.8,141.8 L527.3,141.9 L528.8,141.9 L530.3,142.0 L531.8,142.0 L533.3,142.1 L534.8,142.1 L536.3,142.2 L537.8,142.2 L539.3,142.3 L540.8,142.3 L542.3,142.4 L543.8,142.4 L545.3,142.5 L546.8,142.5 L548.3,142.6 L549.8,142.7 L551.3,142.7 L552.8,142.8 L554.3,142.8 L555.8,142.9 L557.3,143.0 L558.8,143.0 L560.3,143.1 L561.8,143.1 L563.3,143.2 L564.8,143.3 L566.3,143.3 L567.8,143.4 L569.3,143.4 L570.8,143.5 L572.3,143.6 L573.8,143.6 L575.3,143.7 L576.8,143.8 L578.3,143.8 L579.8,143.9 L581.3,144.0 L582.8,144.0 L584.3,144.1 L585.8,144.2 L587.3,144.2 L588.8,144.3 L590.3,144.4 L591.8,144.4 L593.3,144.5 L594.8,144.6 L596.3,144.6 L597.8,144.7 L599.3,144.8 L600.8,144.8 L602.3,144.9 L603.8,145.0 L605.3,145.0 L606.8,145.1 L608.3,145.2 L609.8,145.3 L611.3,145.3 L612.8,145.4 L614.3,145.5 L615.8,145.5 L617.3,145.6 L618.8,145.7 L620.3,145.8 L621.8,145.8 L623.3,145.9 L624.8,146.0 L626.3,146.0 L627.8,146.1 L629.3,146.2 L630.8,146.3 L632.3,146.3 L633.8,146.4 L635.3,146.5 L636.8,146.6 L638.3,146.6 L639.8,146.7 L641.3,146.8 L642.8,146.8 L644.3,146.9 L645.8,147.0 L647.3,147.1 L648.8,147.1 L650.3,147.2 L651.8,147.3 L653.3,147.4 L654.8,147.4 L656.2,147.5 L657.7,147.6 L659.2,147.7 L660.7,147.7 L662.2,147.8 L663.7,147.9 L665.2,148.0 L666.7,148.0 L668.2,148.1 L669.7,148.2 L671.2,148.3 L672.7,148.3 L674.2,148.4 L675.6,149.0 L677.0,149.6 L678.3,150.2 L679.7,150.9 L681.0,151.6 L682.4,152.3 L683.7,153.0 L685.0,153.7 L686.3,154.5 L687.6,155.3 L688.9,156.1 L690.2,156.9 L691.4,157.7 L692.7,158.6 L693.9,159.5 L695.1,160.4 L696.3,161.3 L697.5,162.3 L698.6,163.2 L699.8,164.2 L700.9,165.2 L702.0,166.2 L703.1,167.3 L704.2,168.3 L705.2,169.4 L706.2,170.5 L707.2,171.6 L708.2,172.8 L709.2,173.9 L710.1,175.1 L711.0,176.3 L711.9,177.5 L712.8,178.7 L713.6,180.0 L714.5,181.2 L715.3,182.5 L716.1,183.7 L716.8,185.0 L717.6,186.3 L718.3,187.6 L719.0,188.9 L719.7,190.3 L720.4,191.6 L721.0,193.0 L721.7,194.3 L722.3,195.7 L722.9,197.1 L723.4,198.4 L724.0,199.8 L724.5,201.2 L725.0,202.6 L725.5,204.0 L725.9,205.4 L726.4,206.8 L726.8,208.3 L727.2,209.7 L727.6,211.1 L728.0,212.5 L728.3,214.0 L728.7,215.4 L729.0,216.9 L729.3,218.3 L729.6,219.8 L729.8,221.2 L730.1,222.7 L730.3,224.2 L730.5,225.6 L730.7,227.1 L730.9,228.6 L731.1,230.1 L731.3,231.6 L731.4,233.0 L731.5,234.5 L731.7,236.0 L731.8,237.5 L731.9,239.0 L731.9,240.5 L732.0,242.0 L732.1,243.5 L732.1,245.0 L732.1,246.5 L732.2,248.0 L732.2,249.6 L731.9,251.4 L731.9,252.9 L731.8,254.4 L731.8,255.9 L731.8,257.3 L731.7,258.8 L731.7,260.3 L731.6,261.8 L731.6,263.3 L731.5,264.8 L731.5,266.3 L731.4,267.7 L731.3,269.2 L731.2,270.7 L731.1,272.2 L731.0,273.7 L730.9,275.2 L730.8,276.6 L730.7,278.1 L730.6,279.6 L730.5,281.1 L730.4,282.6 L730.3,284.0 L730.1,285.5 L730.0,287.0 L729.9,288.5 L729.7,290.0 L729.6,291.4 L729.4,292.9 L729.3,294.4 L729.1,295.9 L729.0,297.4 L728.8,298.9 L728.7,300.4 L728.5,301.8 L728.3,303.3 L728.2,304.8 L728.0,306.3 L727.8,307.8 L727.7,309.3 L727.5,310.8 L727.3,312.3 L727.1,313.8 L726.9,315.3 L726.8,316.8 L726.6,318.3 L726.4,319.8 L726.2,321.3 L726.0,322.8 L725.8,324.3 L725.7,325.8 L725.5,327.3 L725.3,328.9 L725.1,330.4 L724.9,331.9 L724.7,333.4 L724.5,334.9 L724.3,336.5 L724.2,338.0 L724.0,339.5 L723.8,341.0 L723.6,342.6 L723.5,344.1 L723.3,345.6 L723.1,347.1 L723.0,348.7 L722.8,350.2 L722.7,351.7 L722.6,353.2 L722.5,354.8 L722.3,356.3 L722.2,357.8 L722.1,359.3 L722.0,360.9 L722.0,362.4 L721.9,363.9 L721.9,365.4 L721.8,366.9 L721.8,368.4 L721.8,369.9 L721.8,371.4 L721.8,372.9 L721.8,374.4 L721.8,375.9 L721.9,377.4 L722.0,378.9 L722.0,380.4 L722.1,381.9 L722.3,383.4 L722.4,384.8 L722.6,386.3 L722.7,387.8 L722.9,389.2 L723.1,390.7 L723.4,392.1 L723.6,393.6 L723.9,395.0 L724.2,396.4 L724.5,397.9 L724.9,399.3 L725.2,400.7 L725.6,402.1 L726.0,403.5 L726.5,404.9 L726.9,406.3 L727.4,407.7 L728.0,409.0 L728.5,410.4 L729.1,411.7 L729.7,413.1 L730.3,414.4 L731.0,415.8 L731.6,417.1 L732.4,418.4 L733.1,419.7 L733.9,421.0 L734.6,422.3 L735.5,423.5 L736.3,424.8 L737.2,426.0 L738.0,427.3 L739.0,428.5 L739.9,429.7 L740.9,430.9 L741.8,432.0 L742.8,433.2 L743.9,434.3 L744.9,435.4 L746.0,436.5 L747.0,437.6 L748.2,438.6 L749.3,439.7 L750.4,440.7 L751.6,441.7 L752.8,442.6 L753.9,443.6 L755.2,444.5 L756.4,445.4 L757.6,446.3 L758.9,447.1 L760.2,447.9 L761.5,448.7 L762.8,449.5 L764.1,450.3 L765.4,451.0 L766.7,451.7 L768.1,452.4 L769.5,453.1 L770.8,453.7 L772.2,454.3 L773.6,455.0 L775.0,455.6 L776.4,456.1 L777.8,456.7 L779.2,457.3 L780.6,457.8 L782.0,458.3 L783.5,458.8 L784.9,459.3 L786.3,459.8 L787.7,460.3 L789.2,460.8 L790.6,461.2 L792.0,461.7 L793.4,462.2 L794.9,462.6 L796.3,463.0 L797.7,463.5 L799.1,463.9 L799.7,464.1" stroke="#009E73" stroke-width="2.0"/>
<path class="c" d="M261.5,128.4 L263.0,128.1 L264.5,127.8 L265.9,127.6 L267.4,127.3 L268.9,127.0 M276.3,125.7 L277.8,125.5 L279.2,125.2 L280.7,125.0 L282.2,124.7 M288.1,123.7 L289.6,123.5 L291.1,123.2 L292.6,123.0 L294.0,122.8 M304.4,121.2 L305.9,121.0 L307.4,120.8 L308.9,120.6 L310.4,120.3 L311.8,120.1 M322.2,118.7 L323.7,118.5 L325.2,118.3 L326.7,118.2 L328.2,118.0 M337.1,116.9 L338.6,116.7 L340.1,116.6 L341.6,116.4 L343.1,116.2 L344.6,116.1 M355.0,115.0 L356.5,114.8 L358.0,114.7 L359.5,114.6 L361.0,114.4 L362.5,114.3 M371.4,113.5 L372.9,113.4 L374.4,113.3 L375.9,113.1 L377.4,113.0 L378.9,112.9 M386.2,111.2 L387.7,111.2 L389.2,111.1 L390.7,111.1 L392.2,111.0 L393.7,111.0 M404.2,110.7 L405.7,110.7 L407.2,110.7 L408.7,110.6 L410.2,110.6 M420.7,110.5 L422.2,110.5 L423.7,110.5 L425.2,110.5 L426.7,110.5 L428.2,110.5 M437.3,110.5 L438.8,110.5 L440.3,110.5 L441.8,110.5 L443.3,110.5 L444.8,110.5 M455.3,110.6 L456.8,110.7 L458.3,110.7 L459.8,110.7 L461.4,110.7 M471.9,111.0 L473.4,111.0 L474.9,111.1 L476.4,111.1 L477.9,111.2 L479.4,111.2 M490.0,111.6 L491.5,111.7 L493.0,111.7 L494.5,111.8 L496.0,111.9 M506.6,112.4 L508.1,112.5 L509.6,112.6 L511.1,112.6 L512.6,112.7 L514.1,112.8 M524.6,113.6 L526.1,113.7 L527.6,113.8 L529.1,113.9 L530.6,114.0 M541.1,115.0 L542.6,115.1 L544.1,115.3 L545.6,115.4 L547.1,115.6 L548.6,115.8 M559.0,117.0 L560.5,117.2 L562.0,117.4 L563.5,117.6 L565.0,117.8 M575.4,119.3 L576.9,119.5 L578.3,119.8 L579.8,120.0 L581.3,120.3 L582.8,120.5 M593.1,122.4 L594.5,122.7 L596.0,123.0 L597.5,123.3 L598.9,123.6 M610.6,126.2 L612.1,126.5 L613.5,126.9 L615.0,127.3 L616.4,127.6 M626.5,130.3 L628.0,130.7 L629.4,131.1 L630.9,131.6 L632.3,132.0 L633.7,132.4 M643.7,135.6 L645.1,136.1 L646.6,136.5 L648.0,137.0 L649.4,137.5 L650.8,138.0 M659.3,141.2 L660.7,141.7 L662.1,142.3 L663.5,142.9 L664.9,143.4 L666.3,144.0" stroke="#009E73" stroke-width="2.2"/>
<path class="c r" d="M189.6,162.7 L190.3,162.5 L191.8,162.3 L193.3,162.1 L194.8,161.8 L196.2,161.6 L197.7,161.3 L199.2,161.1 L200.7,160.9 L202.2,160.6 L203.7,160.4 L205.2,160.2 L206.7,159.9 L208.2,159.7 L209.7,159.5 L211.1,159.3 L212.6,159.1 L214.1,158.9 L215.6,158.6 L217.1,158.4 L218.6,158.2 L220.1,158.0 L221.6,157.8 L223.1,157.6 L224.6,157.4 L226.1,157.2 L227.5,157.0 L229.0,156.8 L230.5,156.6 L232.0,156.5 L233.5,156.3 L235.0,156.1 L236.5,155.9 L238.0,155.7 L239.5,155.5 L241.0,155.4 L242.5,155.2 L244.0,155.0 L245.5,154.9 L247.0,154.7 L248.5,154.5 L249.9,154.4 L251.4,154.2 L252.9,154.0 L254.4,153.9 L255.9,153.7 L257.4,153.6 L258.9,153.4 L260.4,153.3 L261.9,153.1 L263.4,153.0 L264.9,152.8 L266.4,152.7 L267.9,152.5 L269.4,152.4 L270.9,152.3 L272.4,152.1 L273.9,152.0 L275.4,151.8 L276.9,151.7 L278.3,151.6 L279.8,151.5 L281.3,151.3 L282.8,151.2 L284.3,151.1 L285.8,151.0 L287.3,150.9 L288.8,150.7 L290.3,150.6 L291.8,150.5 L293.3,150.4 L294.8,150.3 L296.3,150.2 L297.8,150.1 L299.3,150.0 L300.8,149.9 L302.3,149.8 L303.8,149.7 L305.3,149.6 L306.8,149.5 L308.3,149.4 L309.8,149.3 L311.3,149.2 L312.8,149.1 L314.3,149.0 L315.8,148.9 L317.3,148.8 L318.8,148.7 L320.3,148.7 L321.8,148.6 L323.3,148.5 L324.8,148.4 L326.3,148.3 L327.8,148.3 L329.3,148.2 L330.8,148.1 L332.3,148.0 L333.8,148.0 L335.3,147.9 L336.8,147.8 L338.3,147.8 L339.8,147.7 L341.3,147.6 L342.8,147.6 L344.3,147.5 L345.8,147.5 L347.3,147.4 L348.8,147.3 L350.3,147.3 L351.8,147.2 L353.3,147.2 L354.8,147.1 L356.3,147.1 L357.8,147.0 L359.3,147.0 L360.8,146.9 L362.3,146.9 L363.8,146.8 L365.3,146.8 L366.8,146.8 L368.3,146.7 L369.8,146.7 L371.3,146.6 L372.8,146.6 L374.3,146.6 L375.8,146.5 L377.3,146.5 L378.8,146.5 L380.3,146.4 L381.8,146.4 L383.3,146.4 L384.8,146.3 L386.3,146.3 L387.8,146.3 L389.3,146.3 L390.8,146.2 L392.3,146.2 L393.8,146.2 L395.3,146.2 L396.8,146.2 L398.3,146.1 L399.8,146.1 L401.3,146.1 L402.8,146.1 L404.3,146.1 L405.8,146.0 L407.3,146.0 L408.8,146.0 L410.3,146.0 L411.8,146.0 L413.3,146.0 L414.8,146.0 L416.3,146.0 L417.8,146.0 L419.3,146.0 L420.8,146.0 L422.4,145.9 L423.9,145.9 L425.4,145.9 L426.9,145.9 L428.4,145.9 L429.9,145.9 L431.4,145.9 L432.9,145.9 L434.4,145.9 L435.9,145.9 L437.4,145.9 L438.9,145.9 L440.4,145.9 L441.9,145.9 L443.4,146.0 L444.9,146.0 L446.4,146.0 L447.9,146.0 L449.4,146.0 L450.9,146.0 L452.4,146.0 L453.9,146.0 L455.4,146.0 L456.9,146.0 L458.4,146.0 L459.9,146.1 L461.4,146.1 L462.1,146.1" stroke="#E51E10" stroke-width="2"/>
<path class="c" d="M462.9,146.1 L464.5,146.1 L466.0,146.1 L467.5,146.1 L469.0,146.1 L470.5,146.2 L472.0,146.2 L473.5,146.2 L475.0,146.2 L476.5,146.2 L478.0,146.2 L479.5,146.3 L481.0,146.3 L482.5,146.3 L484.0,146.3 L485.5,146.3 L487.0,146.4 L488.5,146.4 L490.0,146.4 L491.5,146.4 L493.0,146.4 L494.5,146.5 L496.0,146.5 L497.5,146.5 L499.1,146.5 L500.6,146.6 L502.1,146.6 L503.6,146.6 L505.1,146.6 L506.6,146.7 L508.1,146.7 L509.6,146.7 L511.1,146.7 L512.6,146.8 L514.1,146.8 L515.6,146.8 L517.1,146.8 L518.6,146.9 L520.1,146.9 L521.6,146.9 L523.1,146.9 L524.6,147.0 L526.1,147.0 L527.6,147.0 L529.1,147.1 L530.6,147.1 L532.2,147.1 L533.7,147.1 L535.2,147.2 L536.7,147.2 L538.2,147.2 L539.7,147.3 L541.2,147.3 L542.7,147.3 L544.2,147.3 L545.7,147.4 L547.2,147.4 L548.7,147.4 L550.2,147.5 L551.7,147.5 L553.2,147.5 L554.7,147.5 L556.2,147.6 L557.7,147.6 L559.2,147.6 L560.7,147.7 L562.2,147.7 L563.7,147.7 L565.3,147.7 L566.8,147.8 L568.3,147.8 L569.8,147.8 L571.3,147.8 L572.8,147.9 L574.3,147.9 L575.8,147.9 L577.3,147.9 L578.8,148.0 L580.3,148.0 L581.8,148.0 L583.3,148.1 L584.8,148.1 L586.3,148.1 L587.8,148.1 L589.3,148.1 L590.8,148.2 L592.3,148.2 L593.8,148.2 L595.3,148.2 L596.8,148.3 L598.3,148.3 L599.8,148.3 L601.3,148.3 L602.9,148.4 L604.4,148.4 L605.9,148.4 L607.4,148.4 L608.9,148.4 L610.4,148.5 L611.9,148.5 L613.4,148.5 L614.9,148.5 L616.4,148.5 L617.9,148.5 L619.4,148.6 L620.9,148.6 L622.4,148.6 L623.9,148.6 L625.4,148.6 L626.9,148.6 L628.4,148.6 L629.9,148.7 L631.4,148.7 L632.9,148.7 L634.4,148.7 L635.9,148.7 L637.4,148.7 L638.9,148.7 L640.4,148.7 L641.9,148.7 L643.4,148.7 L644.9,148.8 L646.4,148.8 L647.9,148.8 L649.5,148.8 L651.0,148.8 L652.5,148.8 L654.0,148.8 L655.5,148.8 L657.0,148.8 L658.5,148.8 L660.0,148.8 L661.5,148.8 L663.0,148.8 L664.5,148.8 L666.0,148.8 L667.5,148.8 L669.0,148.8 L670.5,148.8 L672.0,148.8 L673.5,148.8 L675.0,148.7 L676.5,148.7 L678.0,148.7 L679.5,148.7 L681.0,148.7 L682.5,148.7 L684.0,148.7 L685.5,148.7 L687.0,148.6 L688.5,148.6 L690.0,148.6 L691.5,148.6 L693.0,148.6 L694.5,148.6 L696.0,148.5 L697.5,148.5 L699.0,148.5 L700.5,148.5 L702.0,148.4 L703.5,148.4 L705.0,148.4 L706.5,148.4 L708.0,148.3 L709.5,148.3 L711.0,148.3 L712.5,148.2 L714.0,148.2 L714.6,149.6 L715.1,151.0 L715.6,152.4 L716.2,153.8 L716.7,155.2 L717.2,156.6 L717.7,158.0 L718.2,159.4 L718.6,160.8 L719.1,162.2 L719.6,163.7 L720.0,165.1 L720.5,166.5 L720.9,168.0 L721.3,169.4 L721.7,170.9 L722.1,172.3 L722.5,173.8 L722.9,175.2 L723.3,176.7 L723.7,178.1 L724.0,179.6 L724.4,181.1 L724.7,182.5 L725.0,184.0 L725.4,185.5 L725.7,186.9 L726.0,188.4 L726.3,189.9 L726.6,191.4 L726.9,192.9 L727.1,194.4 L727.4,195.8 L727.7,197.3 L727.9,198.8 L728.2,200.3 L728.4,201.8 L728.6,203.3 L728.8,204.8 L729.1,206.3 L729.3,207.8 L729.5,209.3 L729.6,210.8 L729.8,212.3 L730.0,213.8 L730.2,215.3 L730.3,216.8 L730.5,218.3 L730.6,219.8 L730.7,221.3 L730.9,222.8 L731.0,224.4 L731.1,225.9 L731.2,227.4 L731.3,228.9 L731.4,230.4 L731.5,231.9 L731.5,233.4 L731.6,234.9 L731.7,236.4 L731.7,237.9 L731.8,239.4 L731.8,240.9 L731.8,242.4 L731.9,243.9 L731.9,245.4 L731.9,246.9 L731.9,248.4 L731.9,249.9 L731.9,251.4 L731.9,252.9 L731.8,254.4 L731.8,255.9 L731.8,257.3 L731.7,258.8 L731.7,260.3 L731.6,261.8 L731.6,263.3 L731.5,264.8 L731.5,266.3 L731.4,267.7 L731.3,269.2 L731.2,270.7 L731.1,272.2 L731.0,273.7 L730.9,275.2 L730.8,276.6 L730.7,278.1 L730.6,279.6 L730.5,281.1 L730.4,282.6 L730.3,284.0 L730.1,285.5 L730.0,287.0 L729.9,288.5 L729.7,290.0 L729.6,291.4 L729.4,292.9 L729.3,294.4 L729.1,295.9 L729.0,297.4 L728.8,298.9 L728.7,300.4 L728.5,301.8 L728.3,303.3 L728.2,304.8 L728.0,306.3 L727.8,307.8 L727.7,309.3 L727.5,310.8 L727.3,312.3 L727.1,313.8 L726.9,315.3 L726.8,316.8 L726.6,318.3 L726.4,319.8 L726.2,321.3 L726.0,322.8 L725.8,324.3 L725.7,325.8 L725.5,327.3 L725.3,328.9 L725.1,330.4 L724.9,331.9 L724.7,333.4 L724.5,334.9 L724.3,336.5 L724.2,338.0 L724.0,339.5 L723.8,341.0 L723.6,342.6 L723.5,344.1 L723.3,345.6 L723.1,347.1 L723.0,348.7 L722.8,350.2 L722.7,351.7 L722.6,353.2 L722.5,354.8 L722.3,356.3 L722.2,357.8 L722.1,359.3 L722.0,360.9 L722.0,362.4 L721.9,363.9 L721.9,365.4 L721.8,366.9 L721.8,368.4 L721.8,369.9 L721.8,371.4 L721.8,372.9 L721.8,374.4 L721.8,375.9 L721.9,377.4 L722.0,378.9 L722.0,380.4 L722.1,381.9 L722.3,383.4 L722.4,384.8 L722.6,386.3 L722.7,387.8 L722.9,389.2 L723.1,390.7 L723.4,392.1 L723.6,393.6 L723.9,395.0 L724.2,396.4 L724.5,397.9 L724.9,399.3 L725.2,400.7 L725.6,402.1 L726.0,403.5 L726.5,404.9 L726.9,406.3 L727.4,407.7 L728.0,409.0 L728.5,410.4 L729.1,411.7 L729.7,413.1 L730.3,414.4 L731.0,415.8 L731.6,417.1 L732.4,418.4 L733.1,419.7 L733.9,421.0 L734.6,422.3 L735.5,423.5 L736.3,424.8 L737.2,426.0 L738.0,427.3 L739.0,428.5 L739.9,429.7 L740.9,430.9 L741.8,432.0 L742.8,433.2 L743.9,434.3 L744.9,435.4 L746.0,436.5 L747.0,437.6 L748.2,438.6 L749.3,439.7 L750.4,440.7 L751.6,441.7 L752.8,442.6 L753.9,443.6 L755.2,444.5 L756.4,445.4 L757.6,446.3 L758.9,447.1 L760.2,447.9 L761.5,448.7 L762.8,449.5 L764.1,450.3 L765.4,451.0 L766.7,451.7 L768.1,452.4 L769.5,453.1 L770.8,453.7 L772.2,454.3 L773.6,455.0 L775.0,455.6 L776.4,456.1 L777.8,456.7 L779.2,457.3 L780.6,457.8 L782.0,458.3 L783.5,458.8 L784.9,459.3 L786.3,459.8 L787.7,460.3 L789.2,460.8 L790.6,461.2 L792.0,461.7 L793.4,462.2 L794.9,462.6 L796.3,463.0 L797.7,463.5 L799.1,463.9 L800.5,464.3" stroke="#E51E10" stroke-width="1.6"/>
<rect x="69.30" y="19.20" width="731.95" height="509.90" fill="none" stroke="#000" stroke-width="1.5" stroke-linejoin="round"/>
<rect x="122.70" y="222.70" width="229.80" height="122.30" fill="#fff" stroke="none"/>
<path d="M168.66,345.00 v-7.20 M168.66,222.70 v7.20 M214.62,345.00 v-7.20 M214.62,222.70 v7.20 M260.58,345.00 v-7.20 M260.58,222.70 v7.20 M306.54,345.00 v-7.20 M306.54,222.70 v7.20 M122.70,304.23 h7.20 M352.50,304.23 h-7.20 M122.70,263.47 h7.20 M352.50,263.47 h-7.20" stroke="#000" stroke-width="1" fill="none"/>
<path class="c" d="M122.8,288.9 L123.8,287.8 L124.8,286.7 L125.8,285.6 L126.9,284.5 L128.0,283.5 L129.1,282.5 L130.3,281.5 L131.5,280.6 L132.7,279.7 L134.0,278.8 L135.2,278.0 L136.5,277.2 L137.8,276.4 L139.2,275.6 L140.5,274.9 L141.9,274.3 L143.3,273.6 L144.7,273.0 L146.1,272.5 L147.6,271.9 L149.0,271.5 L150.5,271.0 L151.9,270.6 L153.4,270.3 L154.9,270.0 L156.3,269.7 L157.8,269.5 L159.3,269.3 L160.8,269.2 L162.3,269.1 L163.8,269.1 L165.2,269.1 L166.7,269.2 L168.2,269.3 L169.7,269.5 L171.1,269.7 L172.6,269.9 L174.1,270.2 L175.5,270.5 L177.0,270.9 L178.4,271.3 L179.9,271.7 L181.3,272.2 L182.7,272.7 L184.2,273.2 L185.6,273.7 L187.0,274.2 L188.4,274.8 L189.8,275.4 L191.2,276.0 L192.6,276.6 L194.0,277.3 L195.4,277.9 L196.8,278.6 L198.2,279.3 L199.6,279.9 L200.9,280.6 L202.3,281.3 L203.7,282.0 L205.0,282.7 L206.4,283.4 L207.7,284.1 L209.0,284.8 L210.4,285.5 L211.7,286.2 L213.0,286.9 L214.4,287.6 L215.7,288.3 L217.0,289.0 L218.3,289.8 L219.6,290.5 L220.9,291.2 L222.2,292.0 L223.6,292.7 L224.9,293.4 L226.2,294.2 L227.4,294.9 L228.7,295.7 L230.0,296.4 L231.3,297.2 L232.6,298.0 L233.9,298.7 L235.2,299.5 L236.5,300.3 L237.8,301.0 L239.0,301.8 L240.3,302.6 L241.6,303.4 L242.9,304.2 L244.2,304.9 L245.5,305.7 L246.8,306.5 L248.1,307.3 L249.4,308.0 L250.7,308.8 L252.0,309.5 L253.3,310.2 L254.6,311.0 L255.9,311.7 L257.3,312.3 L258.6,313.0 L260.0,313.7 L261.4,314.3 L262.8,314.9 L264.2,315.5 L265.6,316.0 L267.0,316.5 L268.5,317.0 L269.9,317.5 L271.4,317.9 L272.9,318.3 L274.3,318.7 L275.8,319.0 L277.3,319.3 L278.8,319.6 L280.3,319.8 L281.8,320.0 L283.3,320.2 L284.9,320.3 L286.4,320.4 L287.9,320.4 L289.4,320.4 L290.9,320.4 L292.4,320.3 L293.8,320.2 L295.3,320.0 L296.8,319.8 L298.3,319.5 L299.7,319.2 L301.1,318.9 L302.6,318.5 L304.0,318.1 L305.4,317.7 L306.8,317.2 L308.2,316.7 L309.6,316.1 L311.0,315.6 L312.4,315.0 L313.9,314.5 L315.3,313.9 L316.7,313.3 L318.2,312.8 L319.6,312.2 L321.1,311.7 L322.6,311.1 L324.1,310.6 L325.6,310.2 L327.1,309.8 L328.5,309.6 L329.8,309.7 L331.0,309.9 L332.1,310.5 L333.1,311.5 L333.9,312.7 L334.6,314.2 L335.1,315.8 L335.4,317.5 L335.7,319.2 L335.8,320.8 L335.8,322.3 L335.8,323.7 L335.9,325.0 L336.0,326.5 L336.1,328.0 L336.1,329.5 L336.1,331.1 L336.1,332.6 L336.1,334.1 L336.1,335.6 L336.1,337.1 L336.1,338.6 L336.1,340.2 L336.1,341.7 L336.1,343.2 L336.1,344.7" stroke="#E51E10" stroke-width="1.8"/>
<rect x="122.70" y="222.70" width="229.80" height="122.30" fill="none" stroke="#000" stroke-width="1.5" stroke-linejoin="round"/>
<path d="M763 0H583V1147Q518 1085 412.5 1023T223 930V1104Q374 1175 487 1276T647 1472H763Z" transform="translate(116.20,366.80) scale(0.007812,-0.007643)" fill="#000" stroke="#000" stroke-width="12"/><text class="t16" x="125.30" y="366.80">2</text>
<path d="M763 0H583V1147Q518 1085 412.5 1023T223 930V1104Q374 1175 487 1276T647 1472H763Z" transform="translate(155.49,366.80) scale(0.007812,-0.007643)" fill="#000" stroke="#000" stroke-width="12"/><text class="t16" x="164.59" y="366.80">2.5</text>
<path d="M763 0H583V1147Q518 1085 412.5 1023T223 930V1104Q374 1175 487 1276T647 1472H763Z" transform="translate(208.12,366.80) scale(0.007812,-0.007643)" fill="#000" stroke="#000" stroke-width="12"/><text class="t16" x="217.22" y="366.80">3</text>
<path d="M763 0H583V1147Q518 1085 412.5 1023T223 930V1104Q374 1175 487 1276T647 1472H763Z" transform="translate(247.41,366.80) scale(0.007812,-0.007643)" fill="#000" stroke="#000" stroke-width="12"/><text class="t16" x="256.51" y="366.80">3.5</text>
<path d="M763 0H583V1147Q518 1085 412.5 1023T223 930V1104Q374 1175 487 1276T647 1472H763Z" transform="translate(300.04,366.80) scale(0.007812,-0.007643)" fill="#000" stroke="#000" stroke-width="12"/><text class="t16" x="309.14" y="366.80">4</text>
<path d="M763 0H583V1147Q518 1085 412.5 1023T223 930V1104Q374 1175 487 1276T647 1472H763Z" transform="translate(339.33,366.80) scale(0.007812,-0.007643)" fill="#000" stroke="#000" stroke-width="12"/><text class="t16" x="348.43" y="366.80">4.5</text>
<path d="M763 0H583V1147Q518 1085 412.5 1023T223 930V1104Q374 1175 487 1276T647 1472H763Z" transform="translate(81.86,350.60) scale(0.007812,-0.007643)" fill="#000" stroke="#000" stroke-width="12"/><text class="t16" x="90.96" y="350.60">.96</text>
<path d="M763 0H583V1147Q518 1085 412.5 1023T223 930V1104Q374 1175 487 1276T647 1472H763Z" transform="translate(81.86,309.83) scale(0.007812,-0.007643)" fill="#000" stroke="#000" stroke-width="12"/><text class="t16" x="90.96" y="309.83">.97</text>
<path d="M763 0H583V1147Q518 1085 412.5 1023T223 930V1104Q374 1175 487 1276T647 1472H763Z" transform="translate(81.86,269.07) scale(0.007812,-0.007643)" fill="#000" stroke="#000" stroke-width="12"/><text class="t16" x="90.96" y="269.07">.98</text>
<path d="M763 0H583V1147Q518 1085 412.5 1023T223 930V1104Q374 1175 487 1276T647 1472H763Z" transform="translate(81.86,228.30) scale(0.007812,-0.007643)" fill="#000" stroke="#000" stroke-width="12"/><text class="t16" x="90.96" y="228.30">.99</text>
<text class="t12" x="189.8" y="387.70" text-anchor="end">Nucleons</text>
<path d="M196.5,383.90 H232" stroke="#000000" stroke-width="2.0" fill="none" stroke-dasharray="7.3,10.35"/>
<text class="t12" x="189.8" y="403.95" text-anchor="end">Hyperons</text>
<path d="M196.5,400.15 H232" stroke="#9400D3" stroke-width="2.0" fill="none"/>
<text class="t12" x="189.8" y="420.20" text-anchor="end">Gibbs, Set 3</text>
<path d="M196.5,416.40 H232" stroke="#BEBEBE" stroke-width="2.0" fill="none"/>
<text class="t12" x="189.8" y="436.45" text-anchor="end">Set 4</text>
<path d="M196.5,432.65 H232" stroke="#E69F00" stroke-width="2.0" fill="none" stroke-dasharray="7.3,10.35"/>
<text class="t12" x="189.8" y="452.70" text-anchor="end">Set 5</text>
<path d="M196.5,448.90 H232" stroke="#E69F00" stroke-width="2.6" fill="none"/>
<text class="t12" x="189.8" y="468.95" text-anchor="end">Maxwell, Set 6</text>
<path d="M196.5,465.15 H232" stroke="#56B4E9" stroke-width="2.0" fill="none"/>
<text class="t12" x="189.8" y="485.20" text-anchor="end">Set 7</text>
<path d="M196.5,481.40 H232" stroke="#009E73" stroke-width="2.0" fill="none"/>
<text class="t12" x="189.8" y="501.45" text-anchor="end">Set 8</text>
<path d="M196.5,497.65 H232" stroke="#009E73" stroke-width="2" fill="none" stroke-dasharray="7.3,10.35"/>
<text class="t12" x="189.8" y="517.70" text-anchor="end">Twins, Set 9</text>
<path d="M196.5,513.90 H232" stroke="#E51E10" stroke-width="1.8" fill="none"/>
<text class="t16" x="435.4" y="574.8" text-anchor="middle">R (km)</text>
<g transform="translate(16.3,299.6) rotate(-90)">
<text class="t16" x="0" y="0">M (M</text>
<circle cx="42.5" cy="0.2" r="4.85" fill="none" stroke="#000" stroke-width="1"/>
<circle cx="42.5" cy="0.2" r="1.7" fill="#000"/>
<text class="t16" x="44.7" y="0">)</text>
</g>
</svg>
</body></html>
